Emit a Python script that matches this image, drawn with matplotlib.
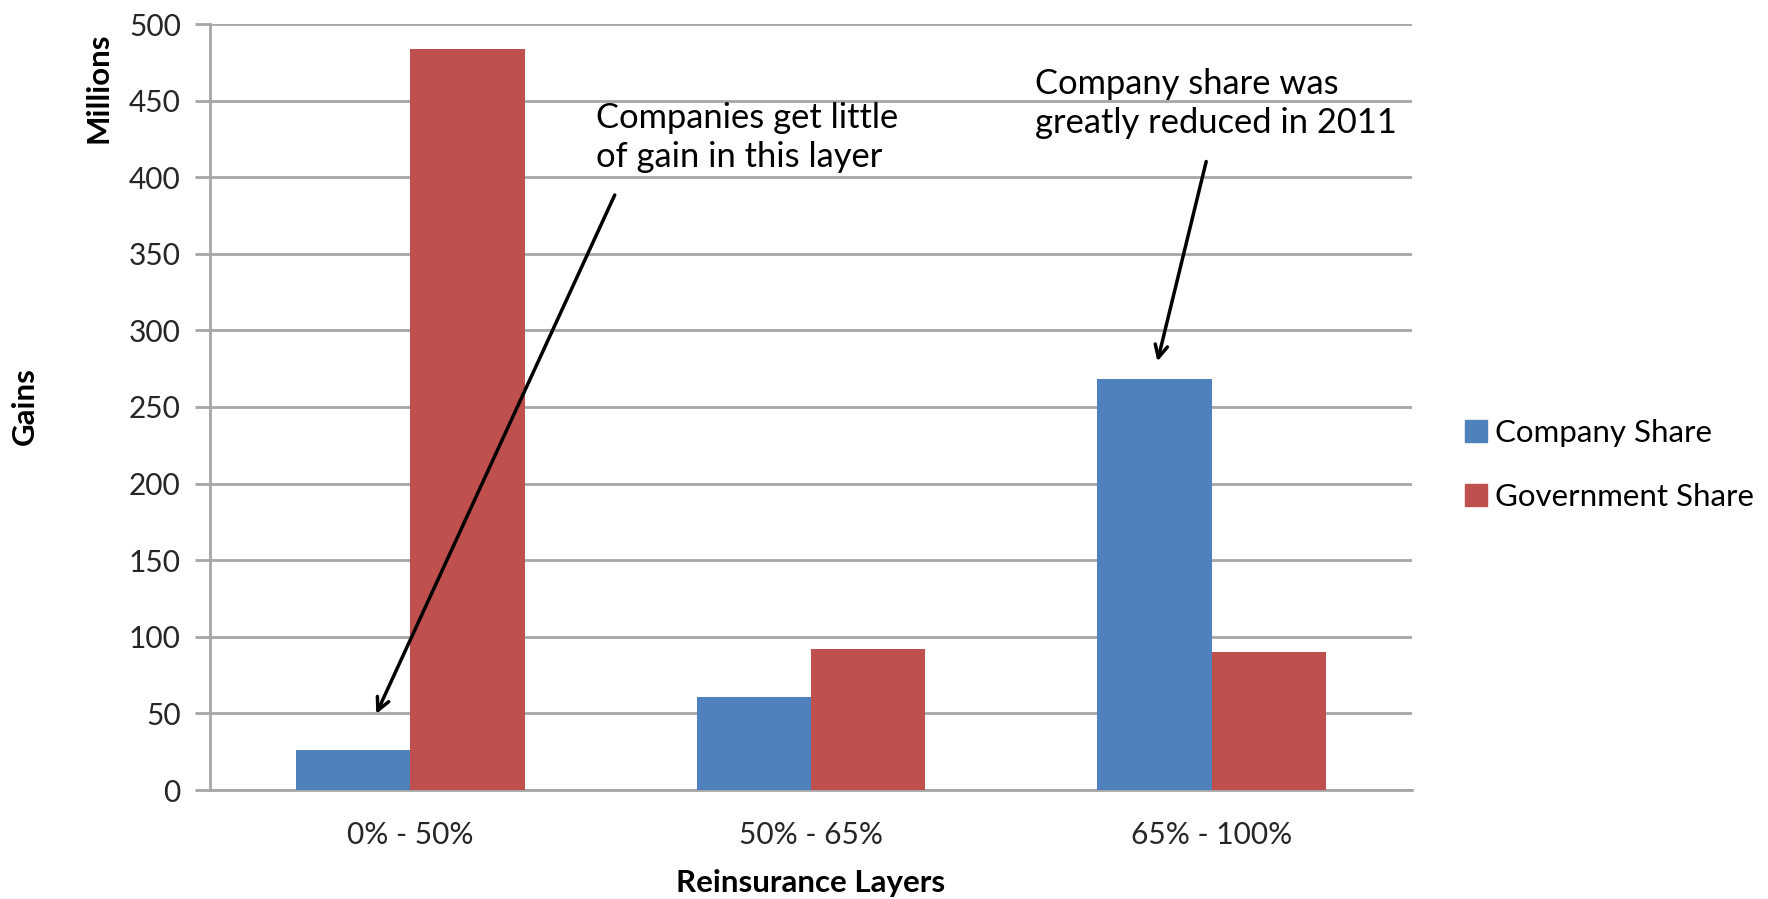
import numpy as np
import matplotlib
matplotlib.use("Agg")
from matplotlib import pyplot as plt
from matplotlib.patches import Patch

layers = ["0% - 50%", "50% - 65%", "65% - 100%"]
company_share = [26, 61, 268]
government_share = [484, 92, 90]
y_ticks = [0, 50, 100, 150, 200, 250, 300, 350, 400, 450, 500]

BLUE = "#4F81BD"
RED = "#C0504D"
GRID = "#A6A6A6"
FONT = ["Lato", "DejaVu Sans"]

plt.rcParams["font.family"] = FONT

fig = plt.figure(figsize=(17.68, 8.99), dpi=100)
ax = fig.add_axes([210 / 1768, 1 - 790 / 899, 1202 / 1768, 766 / 899])

x = np.arange(len(layers))
width = 1 / 3.5
ax.bar(x - width / 2, company_share, width, color=BLUE, zorder=3)
ax.bar(x + width / 2, government_share, width, color=RED, zorder=3)

ax.set_xlim(-0.5, len(layers) - 0.5)
ax.set_ylim(0, 500)
ax.set_yticks(y_ticks)
ax.set_xticks(x)
ax.set_xticklabels(layers)
ax.yaxis.grid(True, color=GRID, linewidth=2, zorder=0)

for side in ["top", "right"]:
    ax.spines[side].set_visible(False)
for side in ["left", "bottom"]:
    ax.spines[side].set_color(GRID)
    ax.spines[side].set_linewidth(2)
ax.tick_params(axis="y", length=11, width=2, color=GRID, labelsize=21.5,
               labelcolor="#262626", pad=10)
ax.tick_params(axis="x", length=0, labelsize=21.5, labelcolor="#262626", pad=22)

ax.set_xlabel("Reinsurance Layers", fontsize=22.5, fontweight="bold", labelpad=15)
fig.text(99 / 1768, 1 - 88 / 899, "Millions", rotation=90, fontsize=22.5,
         fontweight="bold", ha="center", va="center")
fig.text(25 / 1768, 1 - 406 / 899, "Gains", rotation=90, fontsize=22.5,
         fontweight="bold", ha="center", va="center")

handles = [Patch(color=BLUE, label="Company Share"),
           Patch(color=RED, label="Government Share")]
fig.legend(handles=handles, loc="center left",
           bbox_to_anchor=(1437 / 1768, 1 - 465 / 899), frameon=False,
           fontsize=22.5, handlelength=0.7, handleheight=0.7,
           handletextpad=0.25, labelspacing=1.15)

# callouts
ax.text(0.463, 449, "Companies get little\nof gain in this layer",
        fontsize=24.8, va="top", ha="left", color="black",
        linespacing=1.27, zorder=5)
ax.annotate("", xy=(-0.088, 48), xytext=(0.513, 390),
            arrowprops=dict(arrowstyle="->,head_length=0.9,head_width=0.45",
                            color="black", lw=2.5), zorder=5)

ax.text(1.559, 471, "Company share was\ngreatly reduced in 2011",
        fontsize=24.8, va="top", ha="left", color="black",
        linespacing=1.27, zorder=5)
ax.annotate("", xy=(1.863, 278), xytext=(1.988, 412),
            arrowprops=dict(arrowstyle="->,head_length=0.9,head_width=0.45",
                            color="black", lw=2.5), zorder=5)

fig.savefig("out.png", dpi=100)
